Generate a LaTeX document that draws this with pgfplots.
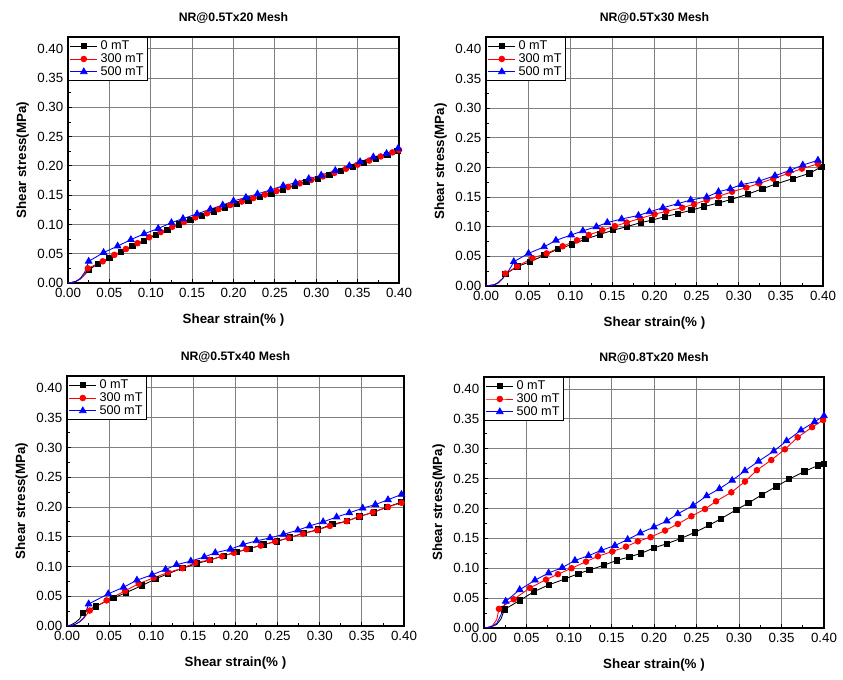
\documentclass[border=0pt]{standalone}
\usepackage{fontspec}
\setmainfont{Liberation Sans}
\usepackage{pgfplots}
\pgfplotsset{compat=1.18}
\definecolor{gridgray}{RGB}{128,128,128}
\pgfplotsset{
 panel/.style={
  scale only axis,
  xmin=0, xmax=0.4, ymin=0, ymax=0.42,
  xtick={0,0.05,0.10,0.15,0.20,0.25,0.30,0.35,0.40},
  ytick={0,0.05,0.10,0.15,0.20,0.25,0.30,0.35,0.40},
  minor tick num=1,
  tick align=inside, xtick pos=bottom, ytick pos=left,
  major tick length=3pt, minor tick length=2pt,
  grid=major, major grid style={gridgray, line width=0.6pt},
  axis line style={line width=0.8pt},
  tick style={black, line width=0.6pt},
  /pgf/number format/assume math mode=true,
  xticklabel style={/pgf/number format/.cd, fixed, fixed zerofill, precision=2},
  yticklabel style={/pgf/number format/.cd, fixed, fixed zerofill, precision=2},
  ticklabel style={font=\fontsize{10}{12}\selectfont},
  title style={font=\bfseries\fontsize{9.2}{11}\selectfont, at={(0.5,1)}, anchor=south, yshift=1pt},
  xlabel={Shear strain(\% )}, ylabel={Shear stress(MPa)},
  label style={font=\bfseries\fontsize{10}{12}\selectfont},
  xlabel style={at={([yshift=-28pt]axis description cs:0.5,0)}, anchor=center},
  ylabel style={at={([xshift=-34pt]axis description cs:0,0.5)}, anchor=center},
  legend style={at={(0,1)}, anchor=north west, draw=black, line width=0.6pt, fill=white,
    font=\fontsize{9.5}{11}\selectfont, inner xsep=1pt, inner ysep=0.5pt, row sep=-2.5pt},
  legend cell align=left,
  legend image code/.code={\draw[mark repeat=2,mark phase=2,#1] plot coordinates {(0cm,0cm) (0.36cm,0cm) (0.72cm,0cm)};},
 },
 s0/.style={black, line width=0.65pt, mark=square*, mark size=2pt, mark options={solid}},
 s3/.style={red, line width=0.65pt, mark=*, mark size=2.1pt, mark options={solid}},
 s5/.style={blue, line width=0.65pt, mark=triangle*, mark size=2.8pt, mark options={solid}},
 t0/.style={black, line width=0.65pt, no markers, forget plot},
 t3/.style={red, line width=0.65pt, no markers, forget plot},
 t5/.style={blue, line width=0.65pt, no markers, forget plot},
}
\begin{document}
\begin{tikzpicture}
\path[use as bounding box] (0,0) rectangle (632.25pt,510pt);
% ---------- Panel 1 ----------
\begin{axis}[panel, at={(51pt,297.75pt)}, anchor=south west, width=248.25pt, height=184.5pt,
  title={NR@0.5Tx20 Mesh}]
\addplot[t0] coordinates {(0,0) (0.005,0.001) (0.01,0.003) (0.015,0.007) (0.02,0.014) (0.025,0.022)};
\addplot[t3] coordinates {(0,0) (0.005,0.001) (0.01,0.003) (0.015,0.007) (0.02,0.015) (0.024,0.025)};
\addplot[t5] coordinates {(0,0) (0.005,0.001) (0.01,0.003) (0.015,0.008) (0.02,0.018) (0.025,0.037)};
\addplot[s0] coordinates {(0.025,0.022) (0.036,0.033) (0.05,0.043) (0.064,0.053) (0.078,0.063) (0.092,0.072) (0.106,0.082) (0.12,0.091) (0.134,0.100) (0.148,0.108) (0.162,0.115) (0.176,0.122) (0.19,0.129) (0.204,0.135) (0.218,0.141) (0.232,0.147) (0.246,0.153) (0.26,0.160) (0.274,0.166) (0.288,0.172) (0.302,0.178) (0.316,0.184) (0.33,0.191) (0.344,0.198) (0.358,0.205) (0.372,0.212) (0.386,0.219) (0.398,0.225)};
\addlegendentry{0 mT}
\addplot[s3] coordinates {(0.024,0.025) (0.042,0.037) (0.056,0.048) (0.07,0.058) (0.084,0.068) (0.098,0.078) (0.112,0.087) (0.126,0.096) (0.14,0.104) (0.154,0.112) (0.168,0.119) (0.182,0.126) (0.196,0.133) (0.21,0.139) (0.224,0.145) (0.238,0.151) (0.252,0.157) (0.266,0.164) (0.28,0.170) (0.294,0.176) (0.308,0.182) (0.322,0.188) (0.336,0.195) (0.35,0.202) (0.364,0.209) (0.378,0.216) (0.392,0.223) (0.40,0.227)};
\addlegendentry{300 mT}
\addplot[s5] coordinates {(0.025,0.037) (0.043,0.052) (0.060,0.063) (0.076,0.074) (0.092,0.084) (0.109,0.093) (0.125,0.103) (0.139,0.110) (0.156,0.118) (0.172,0.126) (0.187,0.133) (0.200,0.140) (0.215,0.146) (0.229,0.152) (0.245,0.159) (0.260,0.166) (0.275,0.171) (0.291,0.178) (0.306,0.184) (0.323,0.192) (0.340,0.200) (0.353,0.207) (0.369,0.215) (0.385,0.221) (0.399,0.230)};
\addlegendentry{500 mT}
\end{axis}
% ---------- Panel 2 ----------
\begin{axis}[panel, at={(364.5pt,295.5pt)}, anchor=south west, width=252.75pt, height=186.75pt,
  title={NR@0.5Tx30 Mesh}]
\addplot[t0] coordinates {(0,0) (0.005,0.001) (0.01,0.002) (0.015,0.006) (0.02,0.013) (0.023,0.020)};
\addplot[t3] coordinates {(0,0) (0.005,0.001) (0.01,0.002) (0.015,0.006) (0.02,0.013) (0.023,0.021)};
\addplot[t5] coordinates {(0,0) (0.005,0.001) (0.01,0.002) (0.015,0.006) (0.02,0.013) (0.025,0.022) (0.03,0.033) (0.033,0.041)};
\addplot[s0] coordinates {(0.023,0.020) (0.0375,0.033) (0.0525,0.041) (0.0695,0.052) (0.085,0.062) (0.102,0.070) (0.118,0.079) (0.135,0.087) (0.151,0.094) (0.167,0.100) (0.184,0.107) (0.197,0.111) (0.212,0.117) (0.228,0.122) (0.244,0.128) (0.259,0.134) (0.276,0.140) (0.291,0.146) (0.311,0.155) (0.328,0.164) (0.344,0.172) (0.364,0.181) (0.384,0.190) (0.398,0.201)};
\addlegendentry{0 mT}
\addplot[s3] coordinates {(0.023,0.021) (0.037,0.033) (0.055,0.047) (0.072,0.055) (0.091,0.067) (0.108,0.077) (0.122,0.086) (0.138,0.094) (0.153,0.101) (0.167,0.107) (0.183,0.114) (0.200,0.121) (0.214,0.126) (0.233,0.132) (0.247,0.138) (0.262,0.145) (0.276,0.151) (0.292,0.159) (0.309,0.166) (0.324,0.173) (0.341,0.181) (0.359,0.190) (0.375,0.198) (0.394,0.206)};
\addlegendentry{300 mT}
\addplot[s5] coordinates {(0.033,0.041) (0.0505,0.055) (0.069,0.066) (0.083,0.077) (0.101,0.086) (0.115,0.093) (0.131,0.100) (0.144,0.107) (0.161,0.113) (0.181,0.119) (0.194,0.125) (0.210,0.132) (0.228,0.139) (0.243,0.145) (0.262,0.150) (0.276,0.159) (0.290,0.164) (0.303,0.171) (0.324,0.177) (0.343,0.186) (0.361,0.195) (0.376,0.204) (0.394,0.212)};
\addlegendentry{500 mT}
\end{axis}
% ---------- Panel 3 ----------
\begin{axis}[panel, at={(50.25pt,40.5pt)}, anchor=south west, width=252.75pt, height=187.5pt,
  title={NR@0.5Tx40 Mesh}]
\addplot[t0] coordinates {(0,0) (0.005,0.002) (0.01,0.006) (0.015,0.012) (0.0186,0.022)};
\addplot[t3] coordinates {(0,0) (0.005,0.001) (0.01,0.003) (0.015,0.007) (0.02,0.013) (0.027,0.026)};
\addplot[t5] coordinates {(0,0) (0.005,0.001) (0.01,0.003) (0.015,0.007) (0.02,0.014) (0.0257,0.037)};
\addplot[s0] coordinates {(0.0186,0.022) (0.034,0.033) (0.055,0.047) (0.070,0.056) (0.089,0.068) (0.105,0.079) (0.120,0.088) (0.137,0.097) (0.154,0.105) (0.170,0.111) (0.186,0.118) (0.201,0.124) (0.217,0.130) (0.233,0.137) (0.249,0.142) (0.265,0.149) (0.281,0.156) (0.298,0.162) (0.315,0.171) (0.332,0.176) (0.347,0.184) (0.364,0.191) (0.380,0.200) (0.397,0.208)};
\addlegendentry{0 mT}
\addplot[s3] coordinates {(0.027,0.026) (0.047,0.043) (0.069,0.059) (0.085,0.071) (0.103,0.081) (0.120,0.090) (0.137,0.097) (0.152,0.106) (0.169,0.111) (0.184,0.117) (0.198,0.123) (0.213,0.129) (0.230,0.135) (0.247,0.142) (0.263,0.148) (0.280,0.155) (0.297,0.161) (0.312,0.168) (0.332,0.176) (0.347,0.184) (0.363,0.191) (0.381,0.200) (0.397,0.207)};
\addlegendentry{300 mT}
\addplot[s5] coordinates {(0.0257,0.037) (0.049,0.054) (0.067,0.065) (0.083,0.077) (0.101,0.086) (0.117,0.095) (0.130,0.103) (0.147,0.109) (0.163,0.116) (0.176,0.123) (0.194,0.129) (0.209,0.137) (0.225,0.143) (0.241,0.148) (0.257,0.154) (0.274,0.161) (0.288,0.168) (0.304,0.175) (0.320,0.183) (0.335,0.190) (0.351,0.198) (0.366,0.204) (0.381,0.212) (0.397,0.221)};
\addlegendentry{500 mT}
\end{axis}
% ---------- Panel 4 ----------
\begin{axis}[panel, at={(363pt,39pt)}, anchor=south west, width=255pt, height=188.25pt,
  title={NR@0.8Tx20 Mesh}]
\addplot[t0] coordinates {(0,0) (0.005,0.001) (0.01,0.003) (0.015,0.006) (0.02,0.015) (0.024,0.031)};
\addplot[t3] coordinates {(0,0) (0.005,0.001) (0.01,0.004) (0.015,0.014) (0.0176,0.032)};
\addplot[t5] coordinates {(0,0) (0.005,0.001) (0.01,0.003) (0.015,0.008) (0.02,0.022) (0.0255,0.0446)};
\addplot[s0] coordinates {(0.024,0.031) (0.042,0.046) (0.059,0.061) (0.076,0.072) (0.095,0.082) (0.111,0.091) (0.124,0.097) (0.141,0.105) (0.156,0.113) (0.171,0.119) (0.185,0.125) (0.200,0.134) (0.215,0.141) (0.232,0.150) (0.248,0.160) (0.265,0.172) (0.279,0.183) (0.297,0.198) (0.311,0.209) (0.327,0.223) (0.344,0.237) (0.359,0.249) (0.377,0.262) (0.393,0.272) (0.400,0.275)};
\addlegendentry{0 mT}
\addplot[s3] coordinates {(0.0176,0.032) (0.035,0.048) (0.054,0.067) (0.073,0.081) (0.087,0.090) (0.103,0.100) (0.120,0.111) (0.134,0.120) (0.151,0.128) (0.167,0.136) (0.181,0.145) (0.196,0.152) (0.213,0.163) (0.228,0.174) (0.244,0.187) (0.260,0.199) (0.273,0.212) (0.291,0.227) (0.307,0.245) (0.321,0.264) (0.338,0.281) (0.354,0.299) (0.369,0.319) (0.386,0.336) (0.399,0.348)};
\addlegendentry{300 mT}
\addplot[s5] coordinates {(0.0255,0.0446) (0.042,0.064) (0.060,0.080) (0.076,0.092) (0.092,0.101) (0.107,0.113) (0.123,0.121) (0.138,0.130) (0.154,0.138) (0.169,0.148) (0.184,0.159) (0.200,0.169) (0.215,0.179) (0.228,0.191) (0.246,0.205) (0.262,0.221) (0.277,0.233) (0.292,0.247) (0.307,0.263) (0.323,0.279) (0.341,0.296) (0.356,0.313) (0.373,0.331) (0.389,0.345) (0.400,0.355)};
\addlegendentry{500 mT}
\end{axis}
\end{tikzpicture}
\end{document}
